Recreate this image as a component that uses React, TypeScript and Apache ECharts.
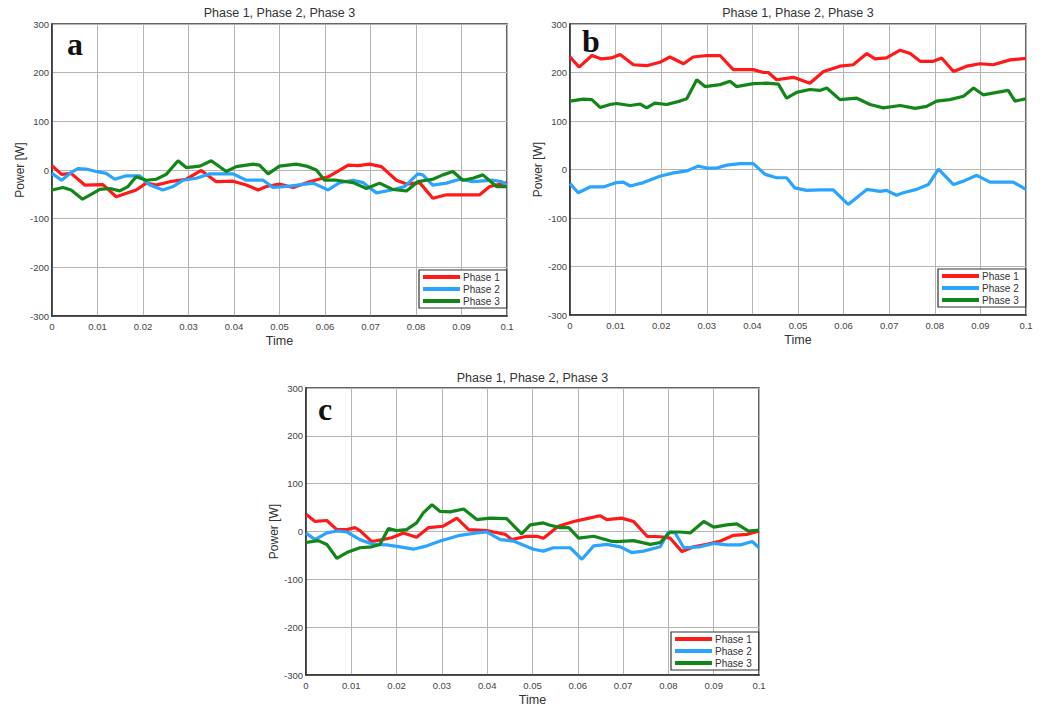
import React, { useEffect, useRef } from "react";
import * as echarts from "echarts";

const seriesNames = ["Phase 1", "Phase 2", "Phase 3"];
const panelLetters = ["a", "b", "c"];
const panelTitle = "Phase 1, Phase 2, Phase 3";

const aPhase1 = [[0,9],[0.0021,-9],[0.0042,-7],[0.0072,-31],[0.0112,-30],[0.0141,-55],[0.0185,-41],[0.0207,-27],[0.0229,-31],[0.0259,-24],[0.0295,-19],[0.0328,-1],[0.0361,-24],[0.0398,-23],[0.0427,-31],[0.0453,-41],[0.0471,-34],[0.05,-29],[0.053,-36],[0.0566,-24],[0.0607,-14],[0.0651,10],[0.0673,9],[0.0698,12],[0.0724,7],[0.0757,-21],[0.0779,-29],[0.0808,-26],[0.0837,-58],[0.0867,-51],[0.0911,-51],[0.094,-51],[0.0962,-34],[0.1,-26]];
const aPhase2 = [[0,-7],[0.0021,-21],[0.0042,-5],[0.0057,3],[0.0075,2],[0.0097,-3],[0.0119,-7],[0.0138,-19],[0.0163,-12],[0.0193,-12],[0.0215,-31],[0.0244,-41],[0.0266,-34],[0.0288,-21],[0.0317,-17],[0.0347,-8],[0.0398,-8],[0.0427,-21],[0.0464,-21],[0.0486,-36],[0.0522,-33],[0.0574,-27],[0.0607,-41],[0.0632,-26],[0.0662,-21],[0.0684,-26],[0.0713,-47],[0.0746,-41],[0.0775,-34],[0.0804,-8],[0.0815,-10],[0.0837,-31],[0.0867,-27],[0.0896,-19],[0.0925,-24],[0.0969,-21],[0.0988,-24],[0.1,-31]];
const aPhase3 = [[0,-41],[0.0024,-36],[0.0042,-41],[0.0067,-60],[0.0086,-50],[0.0105,-40],[0.0127,-38],[0.0149,-43],[0.0167,-34],[0.0185,-14],[0.0207,-21],[0.0229,-19],[0.0251,-9],[0.0277,19],[0.0295,5],[0.0325,8],[0.035,19],[0.0383,-3],[0.0405,7],[0.0442,12],[0.0456,10],[0.0475,-8],[0.05,8],[0.0537,12],[0.0559,8],[0.0581,0],[0.0599,-21],[0.0625,-21],[0.0662,-26],[0.0691,-38],[0.072,-27],[0.0749,-40],[0.0779,-43],[0.0804,-24],[0.0837,-19],[0.0859,-10],[0.0881,-3],[0.0903,-21],[0.0925,-17],[0.0947,-10],[0.0977,-34],[0.1,-34]];

const bPhase1 = [[0,232],[0.002,211],[0.0048,235],[0.0069,228],[0.0091,230],[0.011,237],[0.0139,216],[0.0168,214],[0.0197,221],[0.0219,232],[0.0249,218],[0.027,232],[0.03,235],[0.0329,235],[0.0358,206],[0.0402,206],[0.0424,200],[0.0435,200],[0.0453,185],[0.049,190],[0.0526,178],[0.0556,202],[0.0592,213],[0.0621,216],[0.0651,239],[0.0669,228],[0.0694,230],[0.0724,246],[0.0746,239],[0.0768,223],[0.0797,223],[0.0815,230],[0.0841,202],[0.087,213],[0.0899,218],[0.0928,216],[0.0965,226],[0.1,229]];
const bPhase2 = [[0,-29],[0.0018,-48],[0.0044,-36],[0.0073,-36],[0.0102,-27],[0.0117,-26],[0.0132,-34],[0.0161,-27],[0.0197,-14],[0.0227,-7],[0.0256,-3],[0.0281,7],[0.03,3],[0.0322,3],[0.0344,9],[0.0373,12],[0.0402,12],[0.0428,-10],[0.0453,-17],[0.0475,-17],[0.0493,-38],[0.0519,-43],[0.0548,-42],[0.0577,-42],[0.061,-72],[0.0651,-41],[0.068,-45],[0.0694,-43],[0.0716,-53],[0.0731,-48],[0.076,-41],[0.0786,-31],[0.0808,1],[0.0841,-31],[0.0863,-24],[0.0892,-12],[0.0921,-26],[0.0943,-26],[0.0972,-26],[0.1,-41]];
const bPhase3 = [[0,141],[0.0029,145],[0.0048,144],[0.0066,128],[0.0088,134],[0.0102,136],[0.0132,132],[0.0154,135],[0.0168,127],[0.0186,137],[0.0212,134],[0.0241,141],[0.0256,146],[0.0278,185],[0.0296,171],[0.0329,175],[0.0351,182],[0.0365,171],[0.0402,177],[0.0431,178],[0.0457,176],[0.0475,147],[0.0497,159],[0.0526,165],[0.0548,163],[0.0563,168],[0.0592,144],[0.0629,147],[0.0658,134],[0.0687,127],[0.0724,132],[0.0757,126],[0.0782,130],[0.0804,141],[0.0833,144],[0.0863,151],[0.0885,168],[0.0906,154],[0.0936,159],[0.0961,163],[0.0976,141],[0.1,146]];

const cPhase1 = [[0,36],[0.002,21],[0.0046,23],[0.0068,4],[0.009,4],[0.0108,8],[0.0119,2],[0.0145,-21],[0.0163,-18],[0.0189,-13],[0.0215,-3],[0.0244,-12],[0.027,8],[0.0303,11],[0.0333,28],[0.0359,4],[0.0399,2],[0.0414,-1],[0.044,-6],[0.0454,-17],[0.0487,-10],[0.051,-10],[0.0524,-14],[0.0557,11],[0.0591,21],[0.062,27],[0.0649,33],[0.0664,25],[0.0697,28],[0.0723,21],[0.0753,-10],[0.0782,-11],[0.0804,-14],[0.083,-42],[0.0856,-32],[0.0885,-27],[0.0915,-20],[0.0944,-8],[0.0973,-6],[0.1,1]];
const cPhase2 = [[0,-3],[0.002,-17],[0.0046,-3],[0.0068,1],[0.009,-1],[0.0119,-17],[0.0149,-27],[0.0178,-28],[0.0208,-32],[0.0237,-37],[0.0267,-30],[0.0296,-20],[0.034,-8],[0.0377,-3],[0.0399,-1],[0.0429,-17],[0.0458,-20],[0.0502,-37],[0.0524,-41],[0.0546,-34],[0.0583,-34],[0.0609,-58],[0.0635,-30],[0.0664,-27],[0.0694,-32],[0.0719,-44],[0.0745,-41],[0.0782,-32],[0.08,-1],[0.0815,-3],[0.0834,-34],[0.087,-32],[0.09,-25],[0.0929,-28],[0.0959,-28],[0.0985,-21],[0.1,-34]];
const cPhase3 = [[0,-23],[0.0027,-19],[0.0046,-27],[0.0068,-56],[0.009,-44],[0.0119,-34],[0.0145,-32],[0.0163,-27],[0.0182,6],[0.02,2],[0.0222,4],[0.0244,18],[0.0259,39],[0.0278,56],[0.0296,42],[0.0318,41],[0.0348,47],[0.0377,25],[0.0406,28],[0.0443,27],[0.0476,-5],[0.0495,14],[0.0524,18],[0.0539,13],[0.0561,8],[0.058,8],[0.0602,-14],[0.0635,-10],[0.0672,-20],[0.0686,-21],[0.0723,-19],[0.076,-27],[0.0782,-23],[0.0804,-1],[0.0826,-1],[0.0848,-3],[0.0878,21],[0.09,9],[0.0929,14],[0.0951,16],[0.0977,1],[0.1,3]];

const panelData = [
  [aPhase1, aPhase2, aPhase3],
  [bPhase1, bPhase2, bPhase3],
  [cPhase1, cPhase2, cPhase3],
];

const colors = ["#ff1a1a", "#2aa4ff", "#13861a"];
const FONT = "'Liberation Sans', Arial, sans-serif";

const panels = [
  { left: 52, top: 24, width: 455, height: 292, legendLeft: 419, legendTop: 270, titleTop: 6, letterX: 67, letterY: 28 },
  { left: 570, top: 24, width: 456, height: 291, legendLeft: 938, legendTop: 269, titleTop: 6, letterX: 582, letterY: 25 },
  { left: 306, top: 388, width: 453, height: 291, legendLeft: 671, legendTop: 632, titleTop: 371, letterX: 318, letterY: 393 },
];

export default function App() {
  const ref = useRef<HTMLDivElement>(null);
  useEffect(() => {
    if (!ref.current) return;
    const chart = echarts.init(ref.current, null, { renderer: "svg" });
    const grid: any[] = [];
    const xAxis: any[] = [];
    const yAxis: any[] = [];
    const series: any[] = [];
    const legend: any[] = [];
    const title: any[] = [];
    const graphic: any[] = [];
    panels.forEach((p, i) => {
      grid.push({
        left: p.left, top: p.top, width: p.width, height: p.height,
        show: true, borderColor: "#333", borderWidth: 1.5, backgroundColor: "#fff",
      });
      xAxis.push({
        type: "value", gridIndex: i, min: 0, max: 0.1, interval: 0.01,
        name: "Time", nameLocation: "middle", nameGap: 18,
        nameTextStyle: { fontSize: 12.5, color: "#333", fontFamily: FONT },
        axisLine: { show: true, onZero: false, lineStyle: { color: "#333", width: 1.5 } },
        axisTick: { show: false },
        axisLabel: {
          fontSize: 9.5, color: "#444", fontFamily: FONT, margin: 5,
          formatter: (v: number) => String(+v.toFixed(2)),
        },
        splitLine: { show: true, lineStyle: { color: "#b4b4b4", width: 1 } },
      });
      yAxis.push({
        type: "value", gridIndex: i, min: -300, max: 300, interval: 100,
        name: "Power [W]", nameLocation: "middle", nameGap: 25, nameRotate: 90,
        nameTextStyle: { fontSize: 12, color: "#333", fontFamily: FONT },
        axisLine: { show: true, lineStyle: { color: "#333", width: 1.5 } },
        axisTick: { show: false },
        axisLabel: { fontSize: 9.5, color: "#444", fontFamily: FONT, margin: 3 },
        splitLine: { show: true, lineStyle: { color: "#b4b4b4", width: 1 } },
      });
      panelData[i].forEach((d, k) => {
        series.push({
          type: "line", name: seriesNames[k], xAxisIndex: i, yAxisIndex: i,
          data: d, showSymbol: false, symbol: "none", smooth: false,
          lineStyle: { color: colors[k], width: 3.2 }, itemStyle: { color: colors[k] },
        });
      });
      legend.push({
        data: seriesNames, orient: "vertical", left: p.legendLeft, top: p.legendTop,
        icon: "rect", itemWidth: 37, itemHeight: 4, itemGap: 2,
        padding: [2, 7, 2, 4], borderColor: "#333", borderWidth: 1.2,
        backgroundColor: "#fff",
        textStyle: { fontSize: 10, color: "#333", fontFamily: FONT, padding: [0, 0, 0, -2] },
        selectedMode: false,
      });
      title.push({
        text: panelTitle, left: p.left + p.width / 2, top: p.titleTop, textAlign: "center",
        textStyle: { fontSize: 12.5, fontWeight: "normal", color: "#333", fontFamily: FONT },
        padding: 0,
      });
      graphic.push({
        type: "text", left: p.letterX, top: p.letterY, z: 100,
        style: {
          text: panelLetters[i], fill: "#111",
          font: "bold 32px 'Liberation Serif', 'DejaVu Serif', serif",
        },
      });
    });
    chart.setOption({
      animation: false,
      backgroundColor: "#fff",
      title, grid, xAxis, yAxis, series, legend, graphic,
    });
    return () => chart.dispose();
  }, []);
  return (
    <div
      ref={ref}
      style={{ position: "absolute", left: 0, top: 0, width: 1045, height: 707 }}
    />
  );
}
